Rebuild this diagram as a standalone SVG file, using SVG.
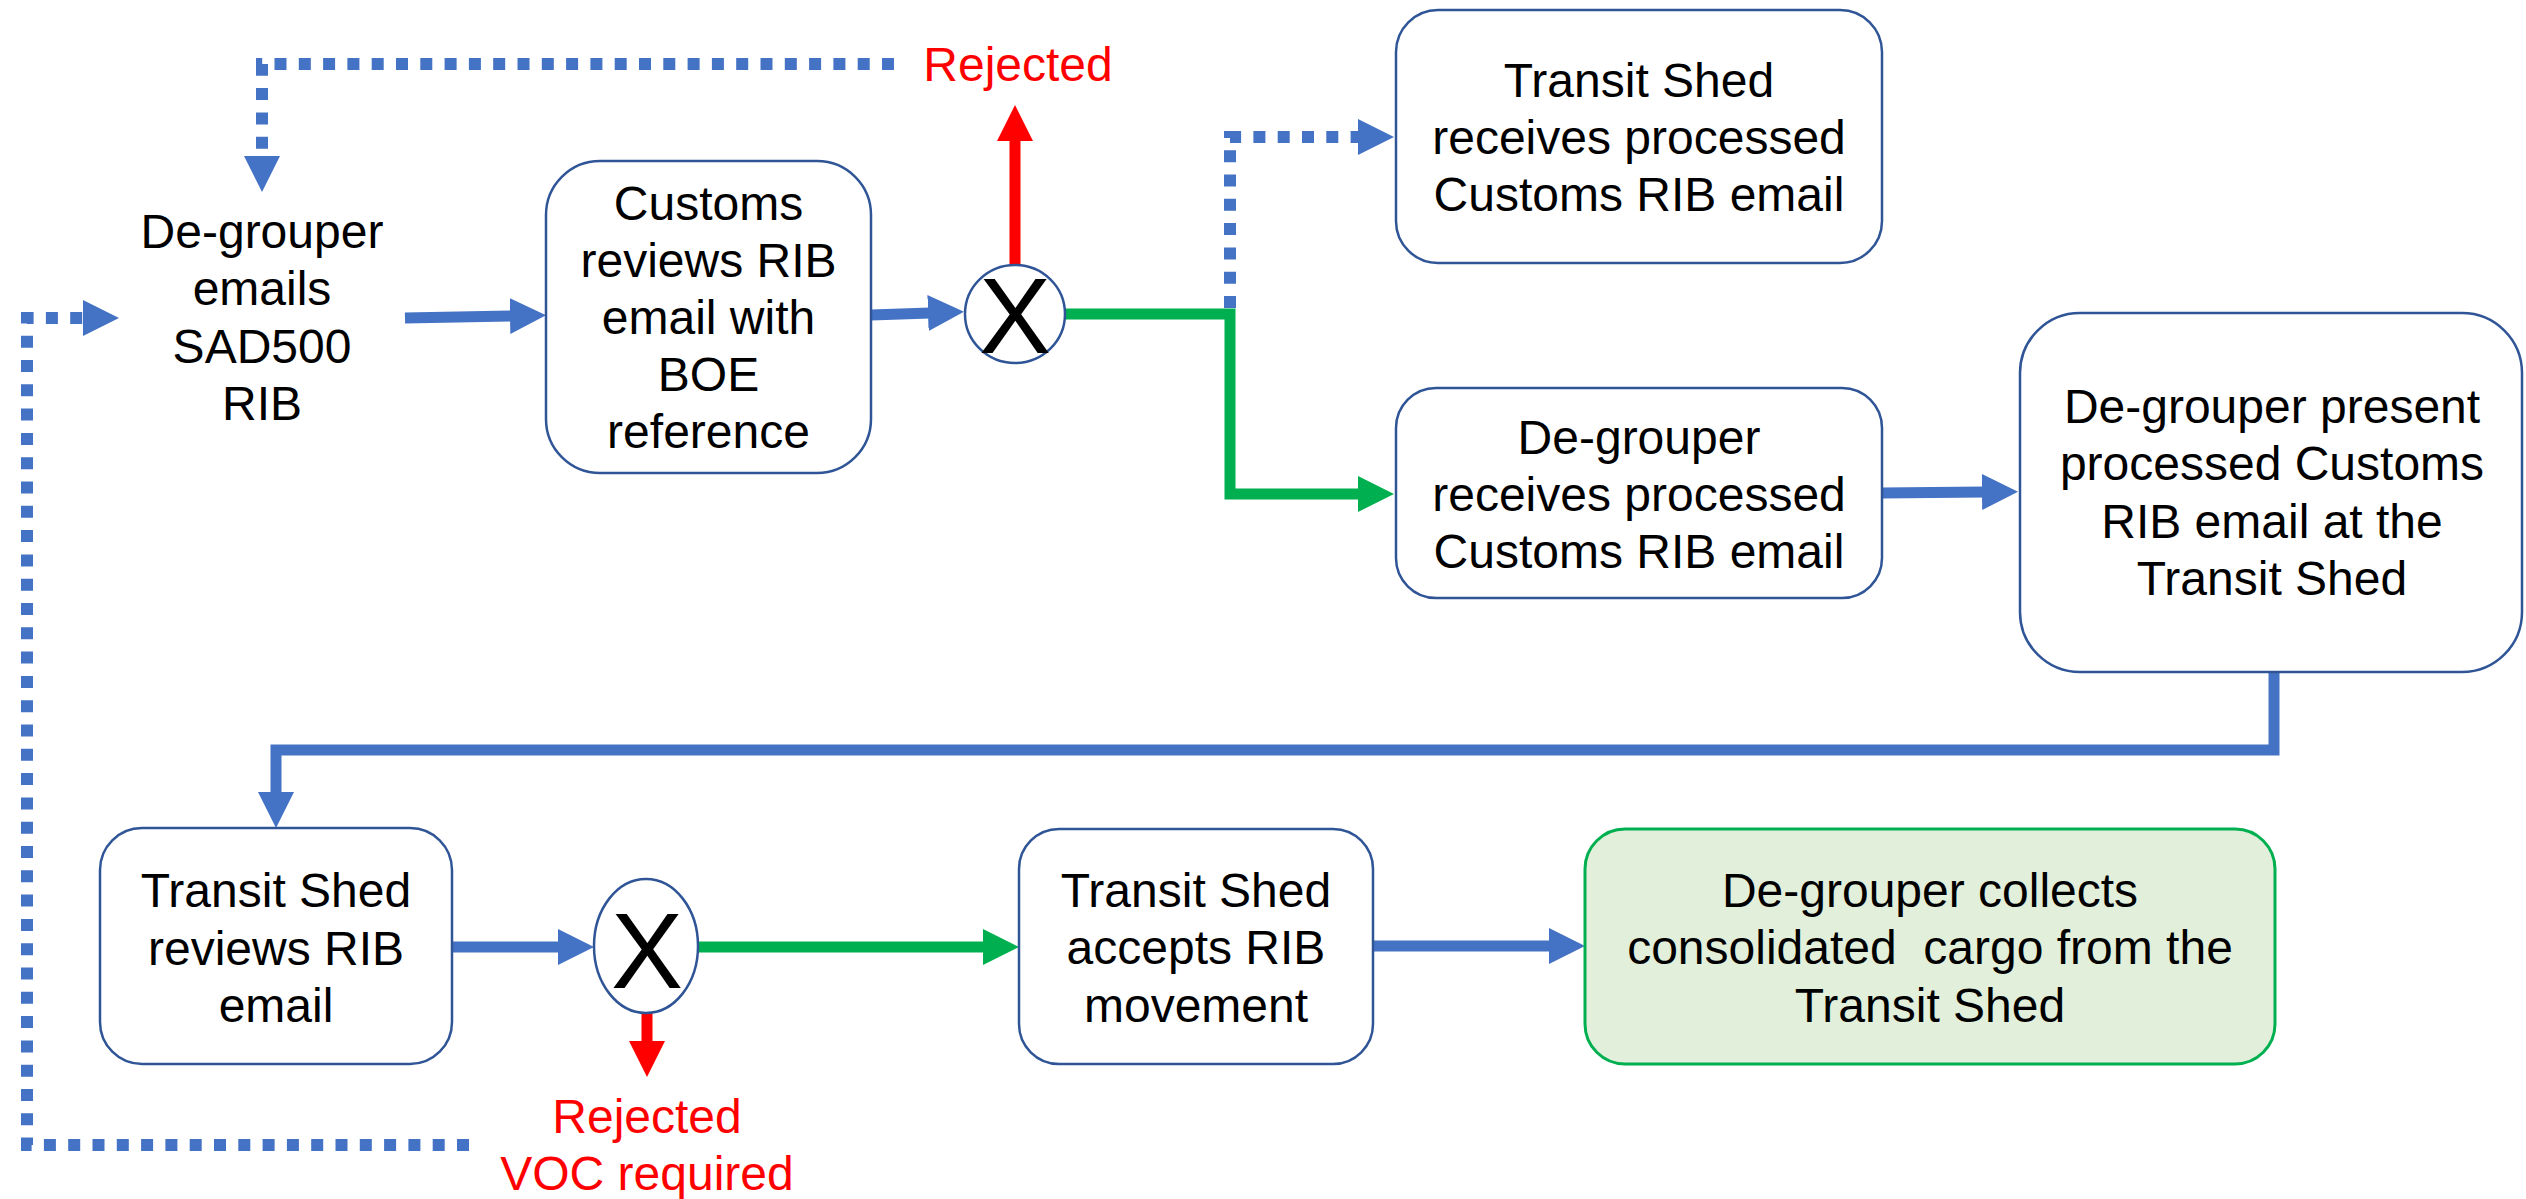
<svg xmlns="http://www.w3.org/2000/svg" width="2526" height="1199" viewBox="0 0 2526 1199">
<style>
  .box { fill: #ffffff; stroke: #2F5597; stroke-width: 2.5; }
  .final { fill: #E2EFDA; stroke: #00B050; stroke-width: 3; }
  .gw { fill: #ffffff; stroke: #2F5597; stroke-width: 2.5; }
  .t { font-family: "Liberation Sans", Arial, sans-serif; font-size: 48px; fill: #000000; text-anchor: middle; }
  .red { fill: #FF0000; }
  .x { font-family: "Liberation Sans", Arial, sans-serif; font-size: 108px; fill: #000000; text-anchor: middle; }
  .blue { fill: none; stroke: #4472C4; stroke-width: 11; marker-end: url(#ab); }
  .dot { fill: none; stroke: #4472C4; stroke-width: 12; stroke-dasharray: 12 12.3; marker-end: url(#ab); }
  .green { fill: none; stroke: #00B050; stroke-width: 11; marker-end: url(#ag); }
  .redl { fill: none; stroke: #FF0000; stroke-width: 11; marker-end: url(#ar); }
</style>
<defs>
  <marker id="ab" markerUnits="userSpaceOnUse" viewBox="0 0 36 36" refX="2" refY="18" markerWidth="36" markerHeight="36" orient="auto">
    <path d="M0,0 L36,18 L0,36 z" fill="#4472C4"/>
  </marker>
  <marker id="ag" markerUnits="userSpaceOnUse" viewBox="0 0 36 36" refX="2" refY="18" markerWidth="36" markerHeight="36" orient="auto">
    <path d="M0,0 L36,18 L0,36 z" fill="#00B050"/>
  </marker>
  <marker id="ar" markerUnits="userSpaceOnUse" viewBox="0 0 36 36" refX="2" refY="18" markerWidth="36" markerHeight="36" orient="auto">
    <path d="M0,0 L36,18 L0,36 z" fill="#FF0000"/>
  </marker>
</defs>
<rect x="0" y="0" width="2526" height="1199" fill="#ffffff"/>

<g id="connectors">
  <path class="dot" d="M894,64 H262 V158"/>
  <path class="dot" d="M469,1145 H27 V318 H85"/>
  <path class="blue" d="M405,318 L512,316"/>
  <path class="blue" d="M871,315 L930,313"/>
  <path class="redl" d="M1015,265 V139"/>
  <path class="dot" d="M1230,308 V137 H1360"/>
  <path class="green" d="M1065,314 H1230 V494 H1360"/>
  <path class="blue" d="M1882,493 L1984,492"/>
  <path class="blue" d="M2274,672 V750 H276 V794"/>
  <path class="blue" d="M452,947 H560"/>
  <path class="redl" d="M647,1013 V1043"/>
  <path class="green" d="M698,947 H985"/>
  <path class="blue" d="M1373,946 H1551"/>
</g>

<g id="emails">
  <text class="t" x="262" y="248">De-grouper</text>
  <text class="t" x="262" y="305">emails</text>
  <text class="t" x="262" y="363">SAD500</text>
  <text class="t" x="262" y="420">RIB</text>
</g>

<g id="customs-review">
  <rect class="box" x="546" y="161" width="325" height="312" rx="54" ry="54"/>
  <text class="t" x="708.5" y="220">Customs</text>
  <text class="t" x="708.5" y="277">reviews RIB</text>
  <text class="t" x="708.5" y="334">email with</text>
  <text class="t" x="708.5" y="391">BOE</text>
  <text class="t" x="708.5" y="448">reference</text>
</g>

<g id="gateway1">
  <ellipse class="gw" cx="1015" cy="314" rx="50" ry="49"/>
  <text class="x" x="1015" y="353">X</text>
</g>

<g id="rejected1">
  <text class="t red" x="1018" y="81">Rejected</text>
</g>

<g id="ts-receives">
  <rect class="box" x="1396" y="10" width="486" height="253" rx="42" ry="42"/>
  <text class="t" x="1639" y="97">Transit Shed</text>
  <text class="t" x="1639" y="154">receives processed</text>
  <text class="t" x="1639" y="211">Customs RIB email</text>
</g>

<g id="dg-receives">
  <rect class="box" x="1396" y="388" width="486" height="210" rx="40" ry="40"/>
  <text class="t" x="1639" y="454">De-grouper</text>
  <text class="t" x="1639" y="511">receives processed</text>
  <text class="t" x="1639" y="568">Customs RIB email</text>
</g>

<g id="dg-present">
  <rect class="box" x="2020" y="313" width="502" height="359" rx="60" ry="60"/>
  <text class="t" x="2272" y="423">De-grouper present</text>
  <text class="t" x="2272" y="480">processed Customs</text>
  <text class="t" x="2272" y="538">RIB email at the</text>
  <text class="t" x="2272" y="595">Transit Shed</text>
</g>

<g id="ts-reviews">
  <rect class="box" x="100" y="828" width="352" height="236" rx="42" ry="42"/>
  <text class="t" x="276" y="907">Transit Shed</text>
  <text class="t" x="276" y="965">reviews RIB</text>
  <text class="t" x="276" y="1022">email</text>
</g>

<g id="gateway2">
  <ellipse class="gw" cx="646" cy="946" rx="52" ry="67"/>
  <text class="x" x="647" y="988">X</text>
</g>

<g id="rejected2">
  <text class="t red" x="647" y="1133">Rejected</text>
  <text class="t red" x="647" y="1190">VOC required</text>
</g>

<g id="ts-accepts">
  <rect class="box" x="1019" y="829" width="354" height="235" rx="40" ry="40"/>
  <text class="t" x="1196" y="907">Transit Shed</text>
  <text class="t" x="1196" y="964">accepts RIB</text>
  <text class="t" x="1196" y="1022">movement</text>
</g>

<g id="dg-collects">
  <rect class="final" x="1585" y="829" width="690" height="235" rx="40" ry="40"/>
  <text class="t" x="1930" y="907">De-grouper collects</text>
  <text class="t" x="1930" y="964" xml:space="preserve">consolidated  cargo from the</text>
  <text class="t" x="1930" y="1022">Transit Shed</text>
</g>
</svg>
